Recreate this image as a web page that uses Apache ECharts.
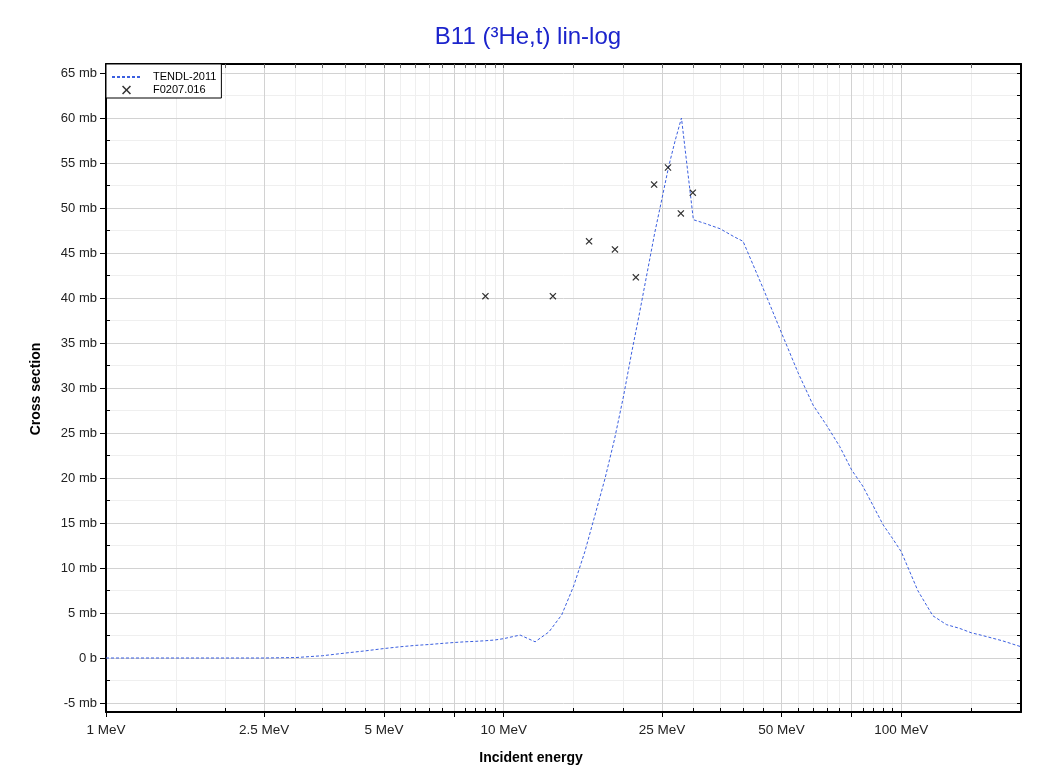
<!DOCTYPE html>
<html><head><meta charset="utf-8">
<script src="https://cdn.jsdelivr.net/npm/echarts@6/dist/echarts.min.js"></script>
<style>html,body{margin:0;padding:0;background:#fff}#c{width:1051px;height:774px}</style>
</head><body><div id="c"></div>
<script>
// TENDL-2011 evaluated cross section (energy in MeV, sigma in mb)
const tendlE = [1, 1.5, 2, 2.5, 3, 3.5, 4, 4.5, 5, 5.5, 6, 6.5, 7, 7.5, 8, 8.5, 9, 9.5, 10, 11, 12, 13, 14, 15, 16, 17, 18, 19, 20, 21, 22, 23, 24, 25, 26, 27, 28, 30, 32, 35, 38, 40, 45, 50, 55, 60, 65, 70, 75, 80, 85, 90, 95, 100, 110, 120, 130, 140, 150, 160, 180, 200];
const tendlS = [0, 0, 0, 0, 0.05, 0.25, 0.55, 0.8, 1.05, 1.25, 1.4, 1.5, 1.62, 1.72, 1.8, 1.85, 1.92, 2.0, 2.15, 2.55, 1.8, 2.9, 4.8, 8.0, 11.8, 16.0, 20.0, 24.3, 29.0, 34.0, 38.5, 43.0, 47.3, 51.0, 54.6, 57.5, 60.0, 48.7, 48.3, 47.7, 46.8, 46.3, 41.0, 36.1, 31.7, 28.1, 25.8, 23.5, 20.9, 19.1, 16.9, 14.8, 13.3, 11.8, 7.5, 4.7, 3.7, 3.3, 2.8, 2.5, 1.9, 1.25];
// EXFOR F0207.016 measured points
const expE = [9.0, 13.3, 16.4, 19.05, 21.5, 23.9, 25.9, 27.9, 29.9];
const expS = [40.2, 40.2, 46.3, 45.4, 42.3, 52.6, 54.5, 49.4, 51.7];
// tick values
const xLabelTicks = [1, 2.5, 5, 10, 25, 50, 100];
const xMajorTicks = [1, 2.5, 5, 7.5, 10, 25, 50, 75, 100];
const xMinorTicks = [1.5, 2, 3, 3.5, 4, 4.5, 5.5, 6, 6.5, 7, 8, 8.5, 9, 9.5, 15, 20, 30, 35, 40, 45, 55, 60, 65, 70, 80, 85, 90, 95, 150];
const yMajorTicks = [-5, 0, 5, 10, 15, 20, 25, 30, 35, 40, 45, 50, 55, 60, 65];
const yMinorTicks = [-2.5, 2.5, 7.5, 12.5, 17.5, 22.5, 27.5, 32.5, 37.5, 42.5, 47.5, 52.5, 57.5, 62.5];

const lg = v => Math.log10(v);
const X_MIN = 0, X_MAX = lg(200);
const FF = 'Liberation Sans, Arial, sans-serif';
const fmtE = v => (Math.round(Math.pow(10, v) * 100) / 100) + ' MeV';
const fmtS = v => (Math.abs(v) < 1e-9 ? '0 b' : v + ' mb');
const X_PATH = 'path://M0,1.2L1.2,0L5,3.8L8.8,0L10,1.2L6.2,5L10,8.8L8.8,10L5,6.2L1.2,10L0,8.8L3.8,5Z';

const chart = echarts.init(document.getElementById('c'), null, {renderer: 'canvas'});
const option = {
  animation: false,
  backgroundColor: '#fff',
  grid: {left: 106, right: 30, top: 64, bottom: 62, containLabel: false},
  xAxis: [
    {type: 'value', position: 'bottom', min: X_MIN, max: X_MAX, z: 1,
     axisLine: {show: true, onZero: false, lineStyle: {color: '#000', width: 2}},
     axisTick: {show: true, inside: false, length: 5, customValues: xMajorTicks.map(lg), lineStyle: {color: '#000'}},
     axisLabel: {show: true, customValues: xLabelTicks.map(lg), formatter: fmtE, fontSize: 13.5, color: '#222', margin: 11, fontFamily: FF},
     splitLine: {show: true, lineStyle: {color: '#d2d2d2', width: 1}}},
    {type: 'value', position: 'bottom', min: X_MIN, max: X_MAX, z: 0,
     axisLine: {show: false, onZero: false},
     axisTick: {show: true, inside: true, length: 4, customValues: xMinorTicks.map(lg), lineStyle: {color: '#000'}},
     axisLabel: {show: false},
     splitLine: {show: true, lineStyle: {color: '#efefef', width: 1}}},
    {type: 'value', position: 'top', min: X_MIN, max: X_MAX, z: 1,
     axisLine: {show: true, onZero: false, lineStyle: {color: '#000', width: 2}},
     axisTick: {show: true, inside: true, length: 4, customValues: xMajorTicks.concat(xMinorTicks).map(lg), lineStyle: {color: '#666'}},
     axisLabel: {show: false},
     splitLine: {show: false}}
  ],
  yAxis: [
    {type: 'value', position: 'left', min: -6, max: 66, z: 1,
     axisLine: {show: true, onZero: false, lineStyle: {color: '#000', width: 2}},
     axisTick: {show: true, inside: false, length: 6, customValues: yMajorTicks, lineStyle: {color: '#000'}},
     axisLabel: {show: true, customValues: yMajorTicks, formatter: fmtS, fontSize: 13, color: '#222', margin: 9, fontFamily: FF},
     splitLine: {show: true, lineStyle: {color: '#d2d2d2', width: 1}}},
    {type: 'value', position: 'left', min: -6, max: 66, z: 0,
     axisLine: {show: false, onZero: false},
     axisTick: {show: true, inside: true, length: 4, customValues: yMinorTicks, lineStyle: {color: '#000'}},
     axisLabel: {show: false},
     splitLine: {show: true, lineStyle: {color: '#efefef', width: 1}}},
    {type: 'value', position: 'right', min: -6, max: 66, z: 1,
     axisLine: {show: true, onZero: false, lineStyle: {color: '#000', width: 2}},
     axisTick: {show: true, inside: true, length: 4, customValues: yMajorTicks.concat(yMinorTicks), lineStyle: {color: '#000'}},
     axisLabel: {show: false},
     splitLine: {show: false}}
  ],
  legend: {
    orient: 'vertical', left: 106, top: 64,
    backgroundColor: '#fff', borderColor: '#000', borderWidth: 1,
    padding: [7, 5, 2, 5], itemWidth: 29, itemHeight: 9, itemGap: 1,
    selectedMode: false,
    textStyle: {fontSize: 11, color: '#000', lineHeight: 12, fontFamily: FF, padding: [0, 0, 0, 7]},
    data: [
      {name: 'TENDL-2011', itemStyle: {color: 'rgba(0,0,0,0)', borderWidth: 0, opacity: 0}},
      {name: 'F0207.016'}
    ]
  },
  graphic: [
    {type: 'text', x: 528, y: 37, z: 10,
     style: {text: 'B11 (³He,t) lin-log', fill: '#1c24cc', font: '24px ' + FF, align: 'center', verticalAlign: 'middle', textAlign: 'center', textVerticalAlign: 'middle'}},
    {type: 'text', x: 36, y: 389, rotation: Math.PI / 2, z: 10,
     style: {text: 'Cross section', fill: '#000', font: 'bold 14px ' + FF, align: 'center', verticalAlign: 'middle', textAlign: 'center', textVerticalAlign: 'middle'}},
    {type: 'text', x: 531, y: 758, z: 10,
     style: {text: 'Incident energy', fill: '#000', font: 'bold 14px ' + FF, align: 'center', verticalAlign: 'middle', textAlign: 'center', textVerticalAlign: 'middle'}}
  ],
  series: [
    {type: 'line', name: 'TENDL-2011', xAxisIndex: 0, yAxisIndex: 0,
     data: tendlE.map((e, i) => [lg(e), tendlS[i]]),
     symbol: 'none', smooth: false, z: 3,
     lineStyle: {color: '#3b5fe0', width: 1, type: [3, 2]},
     itemStyle: {color: '#3b5fe0'}},
    {type: 'scatter', name: 'F0207.016', xAxisIndex: 0, yAxisIndex: 0,
     data: expE.map((e, i) => [lg(e), expS[i]]),
     symbol: X_PATH, symbolSize: 7, z: 4,
     itemStyle: {color: '#000'}}
  ]
};
chart.setOption(option);
</script>
</body></html>
